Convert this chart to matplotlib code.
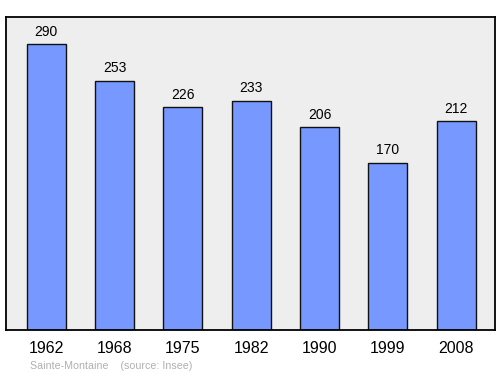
import matplotlib.pyplot as plt

# population data
years = ['1962', '1968', '1975', '1982', '1990', '1999', '2008']
population = [290, 253, 226, 233, 206, 170, 212]

plt.rcParams['font.family'] = ['Liberation Sans', 'DejaVu Sans']

fig = plt.figure(figsize=(5, 3.74), dpi=100)
ax = fig.add_axes([0.012, 0.118, 0.978, 0.837])
ax.set_facecolor('#eeeeee')

x = list(range(len(years)))
ax.bar(x, population, width=0.57, color='#7799ff', edgecolor='#111111', linewidth=1)

#labels above bars
for i, v in zip(x, population):
    ax.annotate(str(v), (i, v), xytext=(0, 4), textcoords='offset points',
                ha='center', va='bottom', fontsize=10)

ax.set_xlim(-0.59, 6.57)
ax.set_ylim(0, 318)
ax.set_yticks([])
ax.set_xticks(x)
ax.set_xticklabels(years, fontsize=11.5)
ax.tick_params(axis='x', length=0, pad=8)
for s in ax.spines.values():
    s.set_linewidth(1.3)

fig.text(0.06, 0.014, 'Sainte-Montaine    (source: Insee)', fontsize=7.7, color='#b0b0b0')

fig.savefig('out.png')
